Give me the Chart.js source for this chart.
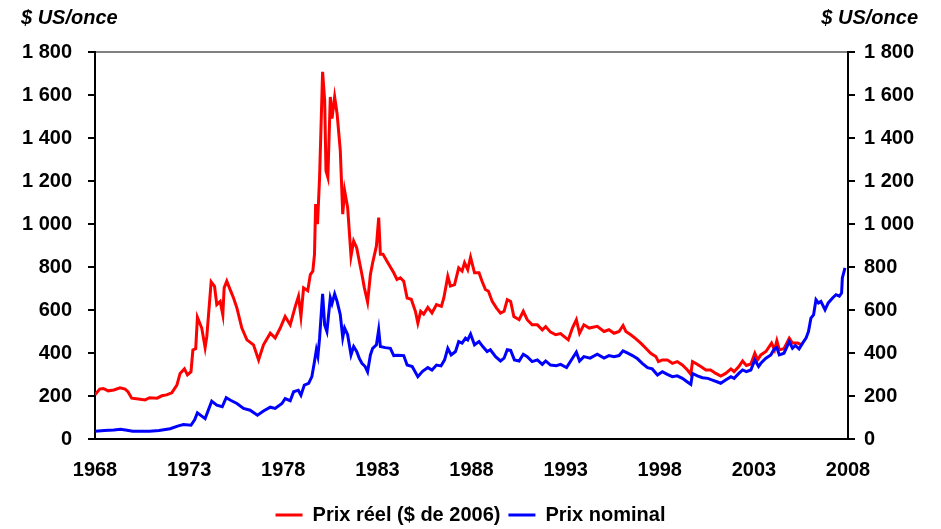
<!DOCTYPE html>
<html>
<head>
<meta charset="utf-8">
<script src="https://cdn.jsdelivr.net/npm/chart.js@4.4.1/dist/chart.umd.min.js"></script>
<style>
  html, body { margin: 0; padding: 0; background: #fff; }
  #wrap { width: 941px; height: 529px; }
</style>
</head>
<body>
<div id="wrap"><canvas id="goldChart" width="941" height="529"></canvas></div>
<script>
// Prix réel ($ de 2006)
const realYears = [
  1968.0, 1968.25, 1968.44, 1968.7, 1969.0, 1969.33, 1969.6, 1969.75, 1969.95, 1970.3,
  1970.66, 1970.9, 1971.3, 1971.55, 1971.8, 1972.08, 1972.35, 1972.52, 1972.75, 1972.91,
  1973.1, 1973.2, 1973.35, 1973.44, 1973.67, 1973.85, 1973.94, 1974.17, 1974.35, 1974.47,
  1974.65, 1974.79, 1974.86, 1975.0, 1975.2, 1975.36, 1975.54, 1975.8, 1976.07, 1976.42,
  1976.69, 1976.95, 1977.31, 1977.57, 1977.84, 1978.1, 1978.37, 1978.64, 1978.81, 1978.94,
  1979.08, 1979.3, 1979.44, 1979.57, 1979.66, 1979.72, 1979.82, 1979.93, 1980.09, 1980.2,
  1980.27, 1980.37, 1980.5, 1980.59, 1980.73, 1980.86, 1981.03, 1981.16, 1981.26, 1981.42,
  1981.6, 1981.74, 1981.9, 1982.04, 1982.18, 1982.31, 1982.48, 1982.63, 1982.75, 1982.95,
  1983.07, 1983.16, 1983.3, 1983.51, 1983.69, 1983.87, 1984.04, 1984.22, 1984.4, 1984.58,
  1984.8, 1985.02, 1985.15, 1985.3, 1985.46, 1985.68, 1985.9, 1986.14, 1986.4, 1986.53,
  1986.74, 1986.88, 1987.1, 1987.32, 1987.5, 1987.63, 1987.8, 1987.95, 1988.16, 1988.4,
  1988.56, 1988.74, 1988.9, 1989.1, 1989.33, 1989.54, 1989.73, 1989.9, 1990.08, 1990.25,
  1990.53, 1990.75, 1990.96, 1991.22, 1991.5, 1991.76, 1991.94, 1992.2, 1992.47, 1992.73,
  1992.91, 1993.14, 1993.36, 1993.57, 1993.74, 1993.97, 1994.25, 1994.68, 1995.04, 1995.3,
  1995.57, 1995.84, 1996.05, 1996.2, 1996.46, 1996.72, 1996.99, 1997.26, 1997.52, 1997.79,
  1997.93, 1998.14, 1998.4, 1998.67, 1998.93, 1999.2, 1999.47, 1999.65, 1999.74, 1999.9,
  2000.18, 2000.45, 2000.7, 2000.98, 2001.24, 2001.5, 2001.78, 2001.95, 2002.2, 2002.4,
  2002.6, 2002.84, 2003.05, 2003.2, 2003.37, 2003.64, 2003.94, 2004.1, 2004.22, 2004.35,
  2004.6, 2004.88, 2005.05, 2005.32, 2005.55
];
const realPrices = [
  206, 232, 235, 224, 228, 238, 232, 220, 190, 186,
  182, 192, 190, 201, 205, 215, 251, 305, 326, 298,
  313, 414, 420, 566, 516, 425, 477, 731, 710, 625,
  640, 578, 703, 734, 690, 656, 609, 516, 461, 438,
  368, 438, 492, 470, 516, 570, 531, 617, 664, 570,
  703, 690, 765, 781, 859, 1093, 999, 1217, 1708, 1575,
  1248, 1217, 1591, 1490, 1591, 1513, 1342, 1046, 1155, 1077,
  851, 921, 890, 827, 765, 703, 637, 765, 820, 898,
  1030, 859, 859, 827, 800, 773, 742, 750, 734, 656,
  650, 594, 539, 594, 581, 612, 586, 625, 617, 656,
  757, 711, 718, 796, 781, 820, 788, 846, 773, 773,
  734, 695, 687, 640, 609, 586, 594, 648, 640, 570,
  555, 594, 555, 531, 531, 508, 523, 497, 485, 490,
  477, 461, 516, 555, 492, 531, 516, 524, 500, 508,
  492, 500, 528, 500, 485, 467, 446, 422, 399, 384,
  360, 368, 368, 352, 360, 344, 321, 301, 360, 352,
  337, 321, 321, 305, 293, 305, 326, 313, 337, 363,
  342, 349, 399, 368, 391, 407, 446, 415, 457, 415,
  420, 469, 446, 446, 438
];

// Prix nominal
const nominalYears = [
  1968.0, 1968.5, 1969.0, 1969.35, 1969.7, 1970.0, 1970.5, 1970.9, 1971.4, 1971.99,
  1972.43, 1972.7, 1973.1, 1973.3, 1973.44, 1973.85, 1974.2, 1974.47, 1974.76, 1974.97,
  1975.2, 1975.54, 1975.89, 1976.24, 1976.63, 1976.95, 1977.31, 1977.57, 1977.93, 1978.1,
  1978.37, 1978.55, 1978.8, 1978.94, 1979.12, 1979.35, 1979.52, 1979.66, 1979.76, 1979.84,
  1979.93, 1980.09, 1980.2, 1980.32, 1980.5, 1980.59, 1980.73, 1980.86, 1981.03, 1981.16,
  1981.26, 1981.42, 1981.6, 1981.74, 1981.9, 1982.04, 1982.18, 1982.35, 1982.48, 1982.63,
  1982.75, 1982.95, 1983.07, 1983.16, 1983.42, 1983.69, 1983.87, 1984.1, 1984.4, 1984.58,
  1984.85, 1985.15, 1985.4, 1985.68, 1985.9, 1986.14, 1986.38, 1986.57, 1986.74, 1986.92,
  1987.15, 1987.32, 1987.5, 1987.68, 1987.8, 1987.95, 1988.16, 1988.4, 1988.6, 1988.83,
  1989.0, 1989.28, 1989.54, 1989.73, 1989.9, 1990.08, 1990.28, 1990.53, 1990.75, 1990.96,
  1991.22, 1991.5, 1991.76, 1991.94, 1992.2, 1992.5, 1992.73, 1993.05, 1993.27, 1993.57,
  1993.74, 1993.97, 1994.3, 1994.68, 1995.04, 1995.3, 1995.57, 1995.84, 1996.05, 1996.3,
  1996.55, 1996.82, 1997.07, 1997.35, 1997.6, 1997.88, 1998.14, 1998.4, 1998.67, 1998.93,
  1999.2, 1999.47, 1999.65, 1999.74, 2000.0, 2000.27, 2000.55, 2000.8, 2001.07, 2001.24,
  2001.5, 2001.78, 2001.95, 2002.2, 2002.4, 2002.6, 2002.84, 2003.05, 2003.25, 2003.37,
  2003.64, 2003.9, 2004.08, 2004.22, 2004.35, 2004.6, 2004.88, 2005.05, 2005.2, 2005.4,
  2005.59, 2005.77, 2005.9, 2006.03, 2006.17, 2006.3, 2006.43, 2006.56, 2006.78, 2006.95,
  2007.18, 2007.36, 2007.54, 2007.66, 2007.7, 2007.84
];
const nominalPrices = [
  36, 40, 42, 45, 41, 36, 36, 36, 40, 48,
  61, 67, 64, 90, 122, 95, 176, 157, 150, 192,
  180, 165, 142, 134, 111, 130, 148, 142, 165, 188,
  178, 220, 227, 204, 251, 259, 290, 360, 415, 385,
  469, 675, 531, 500, 656, 630, 675, 640, 578, 472,
  516, 485, 391, 430, 407, 375, 352, 337, 313, 391,
  422, 438, 508, 430, 425, 422, 388, 390, 388, 344,
  337, 290, 315, 332, 321, 344, 340, 368, 422, 391,
  407, 453, 446, 469, 461, 488, 438, 453, 430, 407,
  415, 383, 363, 376, 415, 412, 368, 363, 394, 383,
  360, 368, 347, 363, 344, 341, 347, 332, 363, 404,
  363, 383, 376, 394, 376, 388, 383, 388, 410, 399,
  388, 373, 352, 332, 326, 298, 313, 301, 290, 294,
  282, 265, 254, 305, 294, 285, 282, 274, 265, 259,
  274, 290, 282, 305, 321, 313, 321, 368, 337, 352,
  376, 391, 419, 425, 391, 399, 453, 422, 435, 419,
  446, 469, 500, 562, 577, 648, 633, 640, 601, 633,
  656, 671, 664, 679, 749, 796
];

const yTicksMax = 1800;
const yTicksStep = 200;
const xFirstYear = 1968;
const xLastYear = 2008;
const unitLabel = '$ US/once';

const toPoints = (xs, ys) => xs.map((x, i) => ({ x: x, y: ys[i] }));
const fmtThousands = (v) => v >= 1000 ? Math.floor(v / 1000) + ' ' + String(v % 1000).padStart(3, '0') : String(v);
const tickFont = { family: 'Arial, "Liberation Sans", sans-serif', size: 20, weight: 'bold' };

// titles "$ US/once" above both y axes
const unitTitles = {
  id: 'unitTitles',
  afterDraw(chart) {
    const c = chart.ctx;
    c.save();
    c.fillStyle = '#000';
    c.font = 'italic bold 20px Arial, "Liberation Sans", sans-serif';
    c.textBaseline = 'alphabetic';
    c.textAlign = 'left';
    c.fillText(unitLabel, 21, 24);
    c.textAlign = 'right';
    c.fillText(unitLabel, 918, 24);
    c.restore();
  }
};

try {
  new Chart(document.getElementById('goldChart'), {
    type: 'line',
    data: {
      datasets: [{
        label: 'Prix réel ($ de 2006)',
        data: toPoints(realYears, realPrices),
        borderColor: '#FF0000',
        backgroundColor: '#FF0000',
        borderWidth: 3,
        pointRadius: 0,
        tension: 0,
        order: 1
      }, {
        label: 'Prix nominal',
        data: toPoints(nominalYears, nominalPrices),
        borderColor: '#0000FF',
        backgroundColor: '#0000FF',
        borderWidth: 3,
        pointRadius: 0,
        tension: 0,
        order: 0
      }]
    },
    options: {
      responsive: false,
      animation: false,
      layout: { padding: { top: 52, bottom: -6, left: 0, right: 0 } },
      plugins: {
        tooltip: { enabled: false },
        legend: {
          position: 'bottom',
          labels: {
            color: '#000',
            font: { family: 'Arial, "Liberation Sans", sans-serif', size: 20, weight: 'bold' },
            boxWidth: 27,
            boxHeight: 3,
            padding: 8,
            sort: (a, b) => a.datasetIndex - b.datasetIndex,
            generateLabels(chart) {
              const items = Chart.defaults.plugins.legend.labels.generateLabels(chart);
              items.forEach(it => { it.lineWidth = 0; it.fillStyle = it.strokeStyle; });
              return items;
            }
          }
        }
      },
      scales: {
        x: {
          type: 'linear',
          min: xFirstYear,
          max: xLastYear,
          afterFit: (s) => { s.height = 58; },
          ticks: { stepSize: 5, color: '#000', font: tickFont, padding: 19, maxRotation: 0,
                   callback: (v) => String(v) },
          grid: { display: false, drawTicks: false },
          border: { display: true, color: '#000', width: 2 }
        },
        y: {
          position: 'left',
          min: 0,
          max: yTicksMax,
          afterFit: (s) => { s.width = 95; },
          ticks: { stepSize: yTicksStep, color: '#000', font: tickFont, padding: 16, callback: fmtThousands },
          grid: {
            drawOnChartArea: true,
            color: (ctx) => ctx.tick && ctx.tick.value === yTicksMax ? '#808080' : 'rgba(0,0,0,0)',
            lineWidth: 2,
            tickColor: '#000',
            tickLength: 7
          },
          border: { display: true, color: '#000', width: 2 }
        },
        y2: {
          position: 'right',
          min: 0,
          max: yTicksMax,
          afterFit: (s) => { s.width = 93; },
          ticks: { stepSize: yTicksStep, color: '#000', font: tickFont, padding: 9, callback: fmtThousands },
          grid: { drawOnChartArea: false, tickColor: '#000', tickLength: 7, lineWidth: 2 },
          border: { display: true, color: '#000', width: 2 }
        }
      }
    },
    plugins: [unitTitles]
  });
} catch (e) { console.error('Crash in goldChart', e); }
</script>
</body>
</html>
